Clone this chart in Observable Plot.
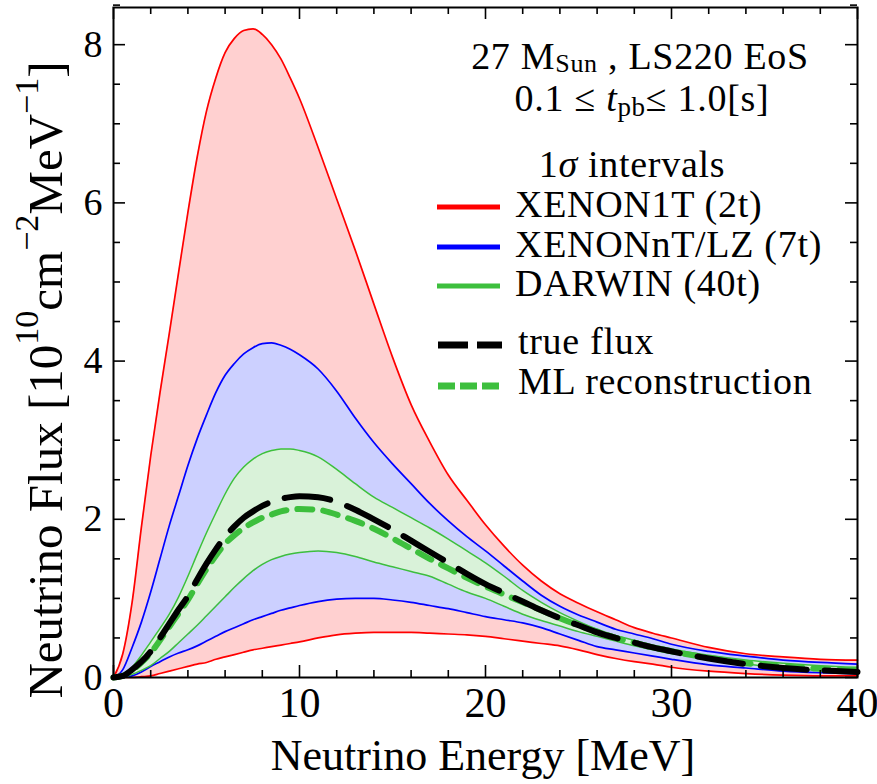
<!DOCTYPE html>
<html>
<head>
<meta charset="utf-8">
<script src="https://cdn.jsdelivr.net/npm/d3@7"></script>
<script src="https://cdn.jsdelivr.net/npm/@observablehq/plot@0.6"></script>
<style>
  html, body { margin: 0; padding: 0; background: #fff; }
  #chart svg { display: block; }
</style>
</head>
<body>
<div id="chart"></div>
<script>
// ---------- data ----------
const energy = [0,0.5,1,1.5,2,2.5,3,3.5,4,4.5,5,5.5,6,6.5,7,7.5,8,8.5,9,9.5,10,
  11,12,13,14,15,16,17,18,19,20,21,22,23,24,25,26,27,28,29,30,32,34,36,38,40];

const xenon1tUpper = [0,0.3,0.95,1.9,2.8,3.6,4.35,5.12,5.88,6.58,7.16,7.58,7.9,8.08,8.18,8.2,8.13,8.0,7.82,7.58,7.32,
  6.7,6.05,5.4,4.72,4.05,3.45,2.98,2.56,2.24,1.93,1.66,1.42,1.22,1.06,0.94,0.83,0.73,0.63,0.56,0.5,
  0.38,0.3,0.26,0.23,0.22];
const xenon1tLower = [0,0,0,0.01,0.02,0.05,0.08,0.11,0.14,0.17,0.19,0.23,0.26,0.29,0.32,0.35,0.37,0.39,0.41,0.43,0.45,
  0.5,0.54,0.56,0.57,0.57,0.57,0.56,0.55,0.54,0.52,0.49,0.46,0.43,0.4,0.35,0.29,0.24,0.2,0.17,0.13,
  0.08,0.05,0.03,0.02,0.02];
const xenonNTUpper = [0,0.1,0.38,0.7,1.08,1.5,1.92,2.3,2.68,3.02,3.32,3.6,3.82,3.97,4.09,4.17,4.22,4.23,4.2,4.15,4.08,
  3.9,3.62,3.28,2.97,2.7,2.45,2.2,1.98,1.78,1.6,1.41,1.22,1.04,0.9,0.79,0.7,0.61,0.55,0.49,0.42,
  0.33,0.27,0.22,0.19,0.17];
const xenonNTLower = [0,0,0.02,0.07,0.14,0.2,0.26,0.31,0.35,0.4,0.46,0.52,0.58,0.63,0.68,0.73,0.77,0.81,0.85,0.88,0.91,
  0.96,0.99,1.0,1.0,0.98,0.95,0.91,0.87,0.82,0.77,0.73,0.69,0.63,0.55,0.47,0.39,0.35,0.31,0.27,0.23,
  0.16,0.12,0.08,0.06,0.05];
const darwinUpper = [0,0.03,0.13,0.28,0.45,0.62,0.8,1.02,1.28,1.56,1.83,2.08,2.32,2.52,2.66,2.76,2.83,2.87,2.89,2.89,2.87,
  2.79,2.63,2.45,2.28,2.15,2.02,1.89,1.75,1.6,1.45,1.28,1.1,0.95,0.82,0.71,0.61,0.53,0.47,0.41,0.36,
  0.28,0.22,0.18,0.15,0.13];
const darwinLower = [0,0.01,0.04,0.09,0.15,0.24,0.33,0.44,0.55,0.66,0.78,0.9,1.02,1.14,1.25,1.35,1.43,1.49,1.53,1.56,1.58,
  1.6,1.58,1.53,1.46,1.4,1.34,1.28,1.18,1.08,1.0,0.9,0.8,0.72,0.65,0.58,0.52,0.46,0.4,0.35,0.31,
  0.24,0.17,0.12,0.09,0.07];
const trueFlux = [0,0.02,0.1,0.2,0.33,0.5,0.68,0.86,1.03,1.24,1.44,1.62,1.78,1.91,2.02,2.1,2.17,2.22,2.26,2.28,2.29,
  2.28,2.22,2.12,2.0,1.87,1.73,1.59,1.45,1.31,1.18,1.07,0.96,0.85,0.75,0.66,0.57,0.5,0.44,0.38,0.33,
  0.24,0.17,0.12,0.09,0.07];
const mlReconstruction = [0,0.02,0.09,0.19,0.31,0.47,0.64,0.81,0.98,1.18,1.37,1.54,1.69,1.8,1.89,1.96,2.02,2.06,2.1,2.12,2.13,
  2.12,2.06,1.98,1.88,1.76,1.63,1.5,1.38,1.26,1.15,1.05,0.95,0.85,0.75,0.66,0.58,0.5,0.44,0.38,0.33,
  0.25,0.18,0.14,0.11,0.09];

const xTicks = [0,10,20,30,40];
const xMinorTicks = [2,4,6,8,12,14,16,18,22,24,26,28,32,34,36,38];
const yTicks = [0,2,4,6,8];
const yMinorTicks = [0.5,1,1.5,2.5,3,3.5,4.5,5,5.5,6.5,7,7.5,8.5];

const legendItems = ["XENON1T (2t)", "XENONnT/LZ (7t)", "DARWIN (40t)"];
const legendColors = ["#ff0000", "#0000ff", "#3dbf3d"];

// ---------- table ----------
const rows = energy.map((e, i) => ({
  e,
  ru: xenon1tUpper[i], rl: xenon1tLower[i],
  bu: xenonNTUpper[i], bl: xenonNTLower[i],
  gu: darwinUpper[i], gl: darwinLower[i],
  tf: trueFlux[i], ml: mlReconstruction[i]
}));

// ---------- layout ----------
const W = 877, H = 784;
const mL = 113, mR = 20, mT = 7, mB = 107;
const fw = W - mL - mR, fh = H - mT - mB;
const FONT = "'Liberation Serif', 'Times New Roman', Times, serif";
const curve = "monotone-x";
const majorLen = 12, minorLen = 7;
const TXT = 38;
const LS = "0.7px";

const plot = Plot.plot({
  width: W, height: H,
  marginLeft: mL, marginRight: mR, marginTop: mT, marginBottom: mB,
  style: {fontFamily: FONT, background: "white", color: "black"},
  x: {domain: [0, 40]},
  y: {domain: [0, 8.47]},
  marks: [
    Plot.areaY(rows, {x: "e", y1: "rl", y2: "ru", fill: "#ffd0d0", curve}),
    Plot.areaY(rows, {x: "e", y1: "bl", y2: "bu", fill: "#ccd0ff", curve}),
    Plot.areaY(rows, {x: "e", y1: "gl", y2: "gu", fill: "#d9f2d9", curve}),
    Plot.lineY(rows, {x: "e", y: "ru", stroke: legendColors[0], strokeWidth: 1.7, curve}),
    Plot.lineY(rows, {x: "e", y: "rl", stroke: legendColors[0], strokeWidth: 1.7, curve}),
    Plot.lineY(rows, {x: "e", y: "bu", stroke: legendColors[1], strokeWidth: 1.7, curve}),
    Plot.lineY(rows, {x: "e", y: "bl", stroke: legendColors[1], strokeWidth: 1.7, curve}),
    Plot.lineY(rows, {x: "e", y: "gu", stroke: legendColors[2], strokeWidth: 1.5, curve}),
    Plot.lineY(rows, {x: "e", y: "gl", stroke: legendColors[2], strokeWidth: 1.5, curve}),
    Plot.lineY(rows, {x: "e", y: "ml", stroke: legendColors[2], strokeWidth: 6, strokeDasharray: "15,11", curve}),
    Plot.lineY(rows, {x: "e", y: "tf", stroke: "black", strokeWidth: 6, strokeDasharray: "46,18", curve}),
    // inward ticks on all four sides
    Plot.tickX(xTicks, {x: d => d, insetTop: fh - majorLen, stroke: "black", strokeWidth: 1.6}),
    Plot.tickX(xTicks, {x: d => d, insetBottom: fh - majorLen, stroke: "black", strokeWidth: 1.6}),
    Plot.tickX(xMinorTicks, {x: d => d, insetTop: fh - minorLen, stroke: "black", strokeWidth: 1.6}),
    Plot.tickX(xMinorTicks, {x: d => d, insetBottom: fh - minorLen, stroke: "black", strokeWidth: 1.6}),
    Plot.tickY(yTicks, {y: d => d, insetRight: fw - majorLen, stroke: "black", strokeWidth: 1.6}),
    Plot.tickY(yTicks, {y: d => d, insetLeft: fw - majorLen, stroke: "black", strokeWidth: 1.6}),
    Plot.tickY(yMinorTicks, {y: d => d, insetRight: fw - minorLen, stroke: "black", strokeWidth: 1.6}),
    Plot.tickY(yMinorTicks, {y: d => d, insetLeft: fw - minorLen, stroke: "black", strokeWidth: 1.6}),
    Plot.axisX(xTicks, {tickSize: 0, tickPadding: 10, fontSize: 42, label: null, fill: "black", tickFormat: d => String(d)}),
    Plot.axisY(yTicks, {tickSize: 0, tickPadding: 11, fontSize: 38, label: null, fill: "black", tickFormat: d => String(d)}),
    Plot.frame({stroke: "black", strokeWidth: 2})
  ]
});

document.getElementById("chart").appendChild(plot);

// ---------- titles, annotation and legend ----------
const svg = d3.select(plot);
const g = svg.append("g").attr("font-family", FONT).attr("fill", "black").attr("text-anchor", "start");

// x-axis title
g.append("text").attr("x", 483).attr("y", 770).attr("text-anchor", "middle")
  .attr("font-size", 44).text("Neutrino Energy [MeV]");

// y-axis title with superscripts
const yl = g.append("text").attr("transform", "translate(62,380) rotate(-90)")
  .attr("text-anchor", "middle").attr("font-size", 49);
yl.append("tspan").text("Neutrino Flux [10");
yl.append("tspan").attr("dy", -24).attr("font-size", 34).text("10");
yl.append("tspan").attr("dy", 24).text("cm");
yl.append("tspan").attr("dy", -24).attr("font-size", 34).text("\u22122");
yl.append("tspan").attr("dy", 24).text("MeV");
yl.append("tspan").attr("dy", -24).attr("font-size", 34).text("\u22121");
yl.append("tspan").attr("dy", 24).text("]");

// annotation lines
const a1 = g.append("text").attr("x", 640).attr("y", 69).attr("text-anchor", "middle")
  .attr("font-size", TXT).attr("letter-spacing", LS);
a1.append("tspan").text("27 M");
a1.append("tspan").attr("dy", 3).attr("font-size", 26).text("Sun");
a1.append("tspan").attr("dy", -3).text(" , LS220 EoS");

const a2 = g.append("text").attr("x", 642).attr("y", 111).attr("text-anchor", "middle")
  .attr("font-size", TXT).attr("letter-spacing", LS);
a2.append("tspan").text("0.1 \u2264 ");
a2.append("tspan").attr("font-style", "italic").text("t");
a2.append("tspan").attr("dy", 5).attr("font-size", 27).text("pb");
a2.append("tspan").attr("dy", -5).text("\u2264 1.0[s]");

const a3 = g.append("text").attr("x", 632).attr("y", 177).attr("text-anchor", "middle")
  .attr("font-size", TXT).attr("letter-spacing", LS);
a3.append("tspan").text("1");
a3.append("tspan").attr("font-style", "italic").text("\u03c3");
a3.append("tspan").text(" intervals");

// legend: band colours
const legendRowsY = [217, 257, 296];
legendItems.forEach((label, i) => {
  g.append("line").attr("x1", 437).attr("x2", 500)
    .attr("y1", legendRowsY[i] - 10).attr("y2", legendRowsY[i] - 10)
    .attr("stroke", legendColors[i]).attr("stroke-width", 5);
  g.append("text").attr("x", 515).attr("y", legendRowsY[i]).attr("font-size", TXT)
    .attr("letter-spacing", LS).text(label);
});
// legend: dashed curves
g.append("line").attr("x1", 438).attr("x2", 502).attr("y1", 345).attr("y2", 345)
  .attr("stroke", "black").attr("stroke-width", 7).attr("stroke-dasharray", "30,9");
g.append("text").attr("x", 518).attr("y", 354).attr("font-size", TXT).attr("letter-spacing", LS).text("true flux");
g.append("line").attr("x1", 438).attr("x2", 500).attr("y1", 386).attr("y2", 386)
  .attr("stroke", legendColors[2]).attr("stroke-width", 7).attr("stroke-dasharray", "17,5");
g.append("text").attr("x", 518).attr("y", 394).attr("font-size", TXT).attr("letter-spacing", LS).text("ML reconstruction");
</script>
</body>
</html>
